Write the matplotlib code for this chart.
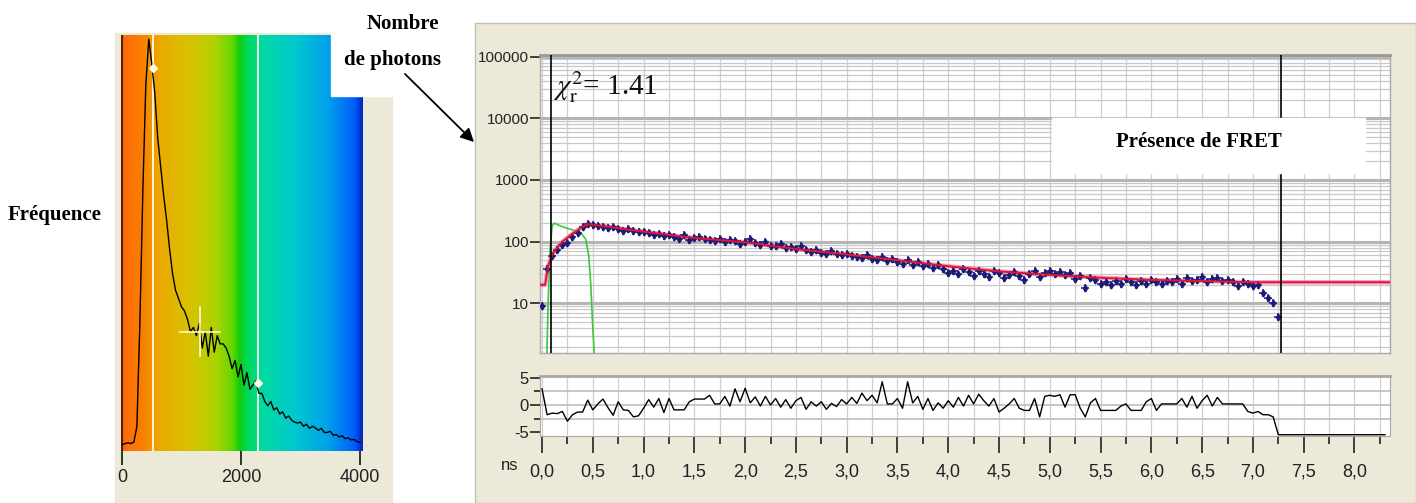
import numpy as np
import matplotlib.pyplot as plt
from matplotlib.colors import LinearSegmentedColormap
from matplotlib.patches import Rectangle, FancyArrowPatch
from matplotlib.ticker import LogLocator, NullFormatter, FixedLocator

plt.rcParams["mathtext.fontset"] = "stix"

W, H = 1416, 503
BEIGE = "#ECE9D8"
NARROW = ["Liberation Sans Narrow", "Liberation Sans", "DejaVu Sans"]
SERIF = ["Liberation Serif", "DejaVu Serif"]

# --- histogramme des durees de vie (panneau gauche) ---
hist_x = np.arange(0, 4001, 50)
hist_y = [0.005, 0.008, 0.01, 0.008, 0.012, 0.05, 0.30, 0.62, 0.88, 0.99,
          0.93, 0.86, 0.75, 0.68, 0.61, 0.55, 0.48, 0.42, 0.38, 0.36,
          0.34, 0.33, 0.31, 0.28, 0.29, 0.27, 0.30, 0.24, 0.28, 0.22,
          0.29, 0.23, 0.27, 0.25, 0.25, 0.24, 0.22, 0.19, 0.21, 0.17,
          0.20, 0.15, 0.18, 0.14, 0.15, 0.16, 0.13, 0.13, 0.11, 0.10,
          0.11, 0.09, 0.095, 0.08, 0.085, 0.07, 0.075, 0.065, 0.06, 0.058,
          0.06, 0.05, 0.055, 0.045, 0.05, 0.046, 0.04, 0.045, 0.035, 0.035,
          0.038, 0.028, 0.03, 0.024, 0.027, 0.02, 0.022, 0.017, 0.018, 0.013,
          0.011]
hist_cursors = [520, 2290]
hist_marks_x = [520, 2290]
hist_marks_y = [0.92, 0.155]
hist_cross = (1310, 0.28)

# --- declin de fluorescence (panneau droit) ---
t_ns = np.round(np.arange(0, 7.26, 0.05), 2)
photons = [9, 36, 58, 72, 88, 96, 118, 140, 172, 196,
           185, 178, 176, 168, 174, 160, 150, 162, 150, 142,
           146, 138, 126, 134, 122, 130, 118, 110, 126, 108,
           114, 117, 112, 108, 104, 112, 98, 106, 104, 92,
           100, 112, 94, 90, 98, 86, 84, 92, 80, 82,
           76, 84, 72, 68, 74, 66, 64, 70, 62, 60,
           64, 58, 56, 54, 60, 52, 50, 56, 48, 52,
           46, 44, 50, 42, 46, 40, 44, 38, 42, 36,
           31, 34, 30, 36, 32, 28, 33, 30, 27, 34,
           31, 26, 29, 32, 28, 24, 30, 33, 27, 31,
           34, 30, 32, 29, 31, 25, 28, 18, 26, 24,
           21, 22, 20, 23, 21, 25, 22, 20, 23, 21,
           24, 22, 21, 23, 22, 25, 21, 26, 23, 24,
           27, 22, 25, 26, 23, 24, 22, 19, 22, 21,
           19, 20, 15, 12, 10, 6]
fit_t = [-0.02, 0.03, 0.06, 0.10, 0.15, 0.20, 0.30, 0.40, 0.45, 0.50, 0.70,
         1.0, 1.5, 2.0, 2.5, 3.0, 3.5, 4.0, 4.5, 5.0, 5.5, 6.0, 6.5, 7.0, 7.3, 8.35]
fit_y = [20, 20, 40, 62, 80, 100, 135, 175, 192, 188, 170,
         145, 115, 98, 76, 62, 50, 40, 33, 29, 26, 24, 23, 22, 22, 22]
irf_t = [0.045, 0.06, 0.08, 0.10, 0.12, 0.20, 0.30, 0.38, 0.43, 0.46, 0.48, 0.50, 0.52]
irf_y = [1, 10, 80, 180, 200, 175, 155, 140, 110, 60, 20, 4, 1]
residus = [3.0, -1.8, -1.5, -1.6, -1.2, -3.0, -1.8, -1.3, -1.3, 0.9,
           -0.9, 0.2, 1.1, -0.5, -1.9, 0.6, -0.9, -1.0, -2.2, -2.0,
           -0.6, 1.0, -0.4, 1.2, -1.4, 1.2, -0.9, -0.9, -0.9, 0.6,
           1.1, 1.1, 1.1, 1.8, 0.2, 0.2, 1.6, -0.2, 3.0, 0.6,
           3.1, 0.4, 1.5, -0.2, 1.6, 0.0, 1.2, -0.4, 1.0, -0.6,
           0.8, 1.4, -0.8, 0.6, -0.2, 0.6, -0.8, 0.3, -0.3, 1.0,
           0.2, 1.4, 0.3, 2.2, 0.8, 1.8, 0.4, 4.3, 0.2, 0.2,
           1.2, -0.6, 4.3, 0.4, 1.6, -0.8, 1.2, -1.0, 0.4, -0.6,
           0.8, -0.4, 1.4, -0.2, 1.8, 0.2, 2.0, 0.8, -0.2, 1.2,
           -1.3, -0.6, 0.2, 1.2, -0.6, -1.0, -1.0, 1.2, -2.2, 1.6,
           1.8, 1.6, 1.9, -0.4, 1.9, 1.9, -0.6, -2.2, 0.4, 1.2,
           -1.0, -1.0, -1.0, -1.0, -0.2, 0.2, -1.0, -1.0, -1.0, 0.6,
           1.2, -1.0, 0.2, 0.2, 0.2, 0.2, 1.2, -0.4, 1.6, -0.6,
           0.8, 1.8, -0.2, 1.4, 0.2, 0.2, 0.2, 0.2, 0.2, -1.2,
           -1.5, -1.2, -1.8, -1.8, -2.2, -5.5]
resid_tail_t = [7.25, 8.3]
resid_tail = [-5.5, -5.5]
cursors_ns = [0.09, 7.28]
x_labels = ["0,0", "0,5", "1,0", "1,5", "2,0", "2,5", "3,0", "3,5", "4,0",
            "4,5", "5,0", "5,5", "6,0", "6,5", "7,0", "7,5", "8,0"]


def box(x0, y0, x1, y1):
    return [x0 / W, 1 - y1 / H, (x1 - x0) / W, (y1 - y0) / H]


def fx(x):
    return x / W


def fy(y):
    return 1 - y / H


fig = plt.figure(figsize=(W / 100, H / 100), dpi=100, facecolor="white")

# fonds beiges
fig.patches.append(Rectangle((fx(115), 0), fx(392) - fx(115), fy(33),
                             transform=fig.transFigure, color=BEIGE, zorder=-5))
fig.patches.append(Rectangle((fx(475), 0), 1 - fx(475), fy(23),
                             transform=fig.transFigure, facecolor=BEIGE,
                             edgecolor="#c4c0b0", lw=1, zorder=-5))

# ---------- histogramme ----------
axh = fig.add_axes(box(121, 35, 363, 451))
axh.set_zorder(1)
stops = [(0.0, (255, 105, 10)), (0.08, (250, 125, 0)), (0.16, (235, 170, 0)),
         (0.285, (215, 195, 0)), (0.39, (175, 210, 0)), (0.46, (100, 215, 0)),
         (0.49, (20, 205, 10)), (0.52, (0, 215, 80)), (0.58, (0, 218, 160)),
         (0.72, (0, 200, 205)), (0.86, (0, 160, 235)), (0.967, (0, 95, 250)),
         (1.0, (0, 40, 200))]
grad = LinearSegmentedColormap.from_list(
    "grad", [(p, tuple(c / 255 for c in rgb)) for p, rgb in stops])
xl = (-17, 4050)
yl = (-0.01, 1.0)
axh.imshow(np.linspace(0, 1, 400)[None, :], cmap=grad, aspect="auto",
           extent=[xl[0], xl[1], yl[0], yl[1]], zorder=0)
axh.set_xlim(xl)
axh.set_ylim(yl)
for c in hist_cursors:
    axh.axvline(c, color="#fffbe0", lw=1.3, zorder=1)
axh.axvline(0, color="#5a1e00", lw=1.6, zorder=2)
axh.plot(hist_x, hist_y, color="black", lw=1.0, zorder=3)
axh.plot(hist_marks_x, hist_marks_y, "D", color="#fffbe0", ms=4, zorder=4)
cx, cy = hist_cross
axh.plot([cx - 330, cx + 330], [cy, cy], color="#fff8d0", lw=1.2, zorder=4)
axh.plot([cx, cx], [cy - 0.06, cy + 0.06], color="#fff8d0", lw=1.2, zorder=4)
for s in axh.spines.values():
    s.set_visible(False)
axh.set_yticks([])
axh.set_xticks([0, 2000, 4000])
axh.set_xticklabels(["0", "2000", "4000"], family=NARROW, fontsize=13)
axh.tick_params(axis="x", direction="out", length=10, width=1.3,
                colors="#222222", pad=3)

# ---------- declin (log) ----------
ax = fig.add_axes(box(540, 55, 1390, 353))
ax.set_zorder(1)
ax.set_facecolor("white")
ax.set_yscale("log")
ax.set_xlim(-0.02, 8.35)
ax.set_ylim(1.57, 1.06e5)
ax.set_xticks(np.arange(0, 8.35, 0.25))
ax.set_xticklabels([])
ax.tick_params(axis="x", length=0)
ax.grid(axis="x", color="#cfcfcf", lw=0.9)
ax.yaxis.set_minor_locator(LogLocator(base=10, subs=np.arange(2, 10)))
ax.yaxis.set_minor_formatter(NullFormatter())
ax.grid(axis="y", which="major", color="#b5b5b5", lw=2.2)
ax.grid(axis="y", which="minor", color="#c8c8c8", lw=0.9)
ax.set_axisbelow(True)
ax.set_yticks([10, 100, 1000, 10000, 100000])
ax.set_yticklabels(["10", "100", "1000", "10000", "100000"], family=NARROW,
                   fontsize=11)
ax.tick_params(axis="y", which="major", direction="out", length=7, width=1.2,
               colors="#222222", pad=1)
ax.tick_params(axis="y", which="minor", length=0)
for side, s in ax.spines.items():
    s.set_color("#a8a8a8")
    s.set_linewidth(1.0)
ax.spines["top"].set_linewidth(2.0)
ax.spines["top"].set_color("#9a9a9a")

ax.plot(irf_t, irf_y, color="#3cc83c", lw=1.2, zorder=3)
ax.plot(fit_t, fit_y, color="#f07ab8", lw=3.2, alpha=0.7, zorder=3)
ax.plot(t_ns, photons, "d", color="#1c1c78", ms=3.5, zorder=4)
ax.plot(t_ns, photons, "+", color="#1c1c78", ms=6, mew=1.1, zorder=4)
ax.plot(fit_t, fit_y, color="#e0182c", lw=1.4, zorder=5)
for c in cursors_ns:
    ax.axvline(c, color="black", lw=1.2, zorder=6)

ax.text(0.11, 3.2e4, r"$\chi_\mathrm{r}^2$= 1.41", fontsize=21, family=SERIF,
        color="#111111", va="center", ha="left", zorder=7)

# ---------- residus ----------
axr = fig.add_axes(box(540, 376, 1390, 436))
axr.set_zorder(1)
axr.set_facecolor("white")
axr.set_xlim(-0.02, 8.35)
axr.set_ylim(-5.74, 5.37)
axr.plot(list(t_ns) + resid_tail_t[1:], residus + resid_tail[1:],
         color="black", lw=1.0, zorder=3)
axr.xaxis.set_minor_locator(FixedLocator(np.arange(0.25, 8.35, 0.5)))
axr.set_xticks(np.arange(0, 8.01, 0.5))
axr.set_xticklabels(x_labels, family=NARROW, fontsize=13)
axr.tick_params(axis="x", which="major", direction="out", length=12,
                width=1.2, colors="#222222", pad=8)
axr.tick_params(axis="x", which="minor", direction="out", length=6,
                width=1.2, colors="#222222")
axr.set_yticks([-5, 0, 5])
axr.set_yticklabels(["-5", "0", "5"], family=NARROW, fontsize=12)
axr.yaxis.set_minor_locator(FixedLocator([-2.5, 2.5]))
axr.tick_params(axis="y", which="major", direction="out", length=7,
                width=1.2, colors="#222222", pad=1)
axr.tick_params(axis="y", which="minor", direction="out", length=4,
                width=1.2, colors="#222222")
for xv in np.arange(0, 8.35, 0.25):
    axr.axvline(xv, color="#cfcfcf", lw=0.9, zorder=1)
for yv in [-2.5, 0, 2.5]:
    axr.axhline(yv, color="#bdbdbd", lw=1.2, zorder=1)
for side, s in axr.spines.items():
    s.set_color("#a8a8a8")
axr.spines["top"].set_linewidth(2.0)
fig.text(fx(510), fy(465), "ns", family=NARROW, fontsize=12, color="#222222",
         ha="center", va="center")

# ---------- annotations ----------
fig.patches.append(Rectangle((fx(1052), fy(173)), fx(1365) - fx(1052),
                             fy(118) - fy(173), transform=fig.transFigure,
                             color="white", zorder=10))
fig.text(fx(1199), fy(142), "Présence de FRET", family=SERIF, weight="bold",
         fontsize=15, ha="center", va="center", zorder=11)

fig.patches.append(Rectangle((fx(331), fy(96)), fx(442) - fx(331), fy(0) - fy(96),
                             transform=fig.transFigure, color="white", zorder=10))
fig.text(fx(403), fy(24), "Nombre", family=SERIF, weight="bold", fontsize=15,
         ha="center", va="center", zorder=11)
fig.text(fx(392), fy(60), "de photons", family=SERIF, weight="bold",
         fontsize=15, ha="center", va="center", zorder=11)
fig.text(fx(55), fy(215), "Fréquence", family=SERIF, weight="bold",
         fontsize=15, ha="center", va="center", zorder=11)

fig.add_artist(FancyArrowPatch((fx(403), fy(72)), (fx(476), fy(144)),
                               transform=fig.transFigure, arrowstyle="-|>",
                               mutation_scale=20, color="black", lw=1.3,
                               zorder=12))

fig.savefig("out.png", dpi=100)
